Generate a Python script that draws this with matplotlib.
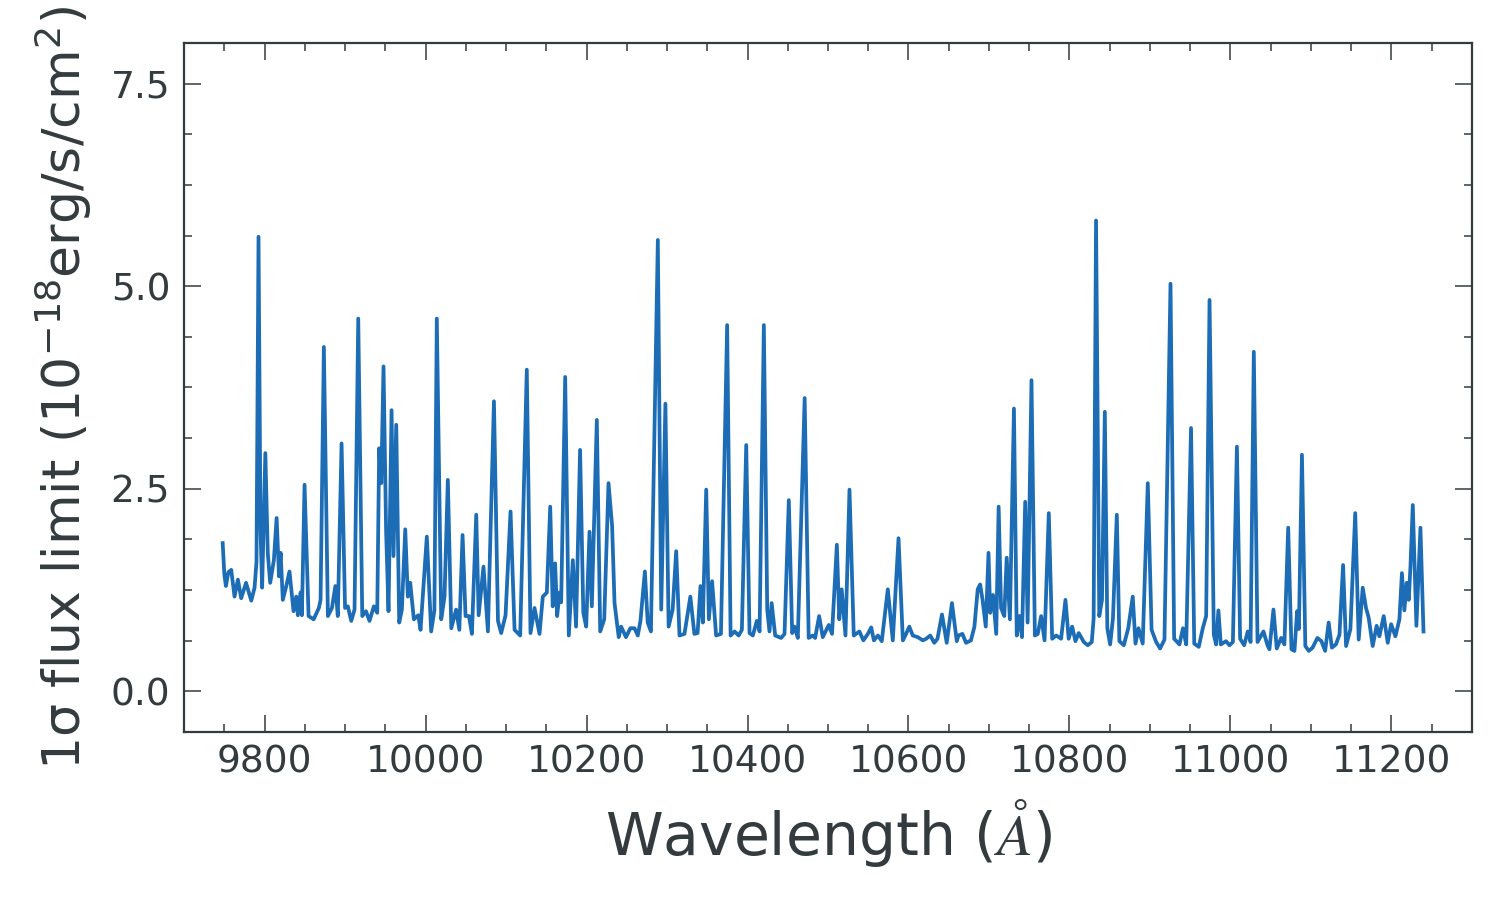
import numpy as np
import matplotlib
matplotlib.use("Agg")
import matplotlib.pyplot as plt
from matplotlib.ticker import MultipleLocator

# --- data (wavelength in A, flux in 1e-18 erg/s/cm2) ---
wavelength = [
    9748.0, 9750.0, 9752.0, 9755.0, 9758.6, 9762.7, 9766.9, 9771.0, 9777.0, 9783.5,
    9787.6, 9790.0, 9792.5, 9795.0, 9797.0, 9801.0, 9804.0, 9807.0, 9811.6, 9815.0,
    9818.0, 9820.0, 9822.7, 9827.0, 9831.0, 9836.0, 9839.4, 9841.4, 9844.7, 9846.4,
    9849.7, 9854.7, 9861.0, 9867.5, 9869.6, 9873.7, 9878.7, 9883.7, 9888.0, 9891.0,
    9895.7, 9900.0, 9903.5, 9907.7, 9911.8, 9916.4, 9921.4, 9926.0, 9930.4, 9935.8,
    9940.0, 9942.4, 9945.0, 9947.8, 9951.0, 9954.0, 9957.8, 9960.2, 9963.6, 9967.3,
    9970.6, 9974.8, 9978.0, 9981.0, 9985.5, 9991.0, 9993.8, 10001.6, 10007.0, 10011.0,
    10014.0, 10019.5, 10023.6, 10027.7, 10032.0, 10038.0, 10042.0, 10046.0, 10049.7, 10054.0,
    10057.6, 10063.0, 10066.0, 10072.0, 10077.5, 10085.0, 10090.0, 10094.0, 10099.4, 10105.6,
    10110.6, 10117.6, 10125.8, 10130.4, 10135.4, 10141.6, 10145.7, 10150.7, 10154.9, 10158.0,
    10161.0, 10163.5, 10166.5, 10168.5, 10173.5, 10178.0, 10183.0, 10187.0, 10192.0, 10196.0,
    10199.6, 10203.7, 10206.6, 10212.8, 10217.0, 10222.0, 10227.3, 10231.8, 10234.8, 10240.0,
    10243.0, 10249.0, 10254.5, 10259.6, 10263.7, 10267.0, 10272.5, 10276.0, 10280.0, 10288.6,
    10292.8, 10298.0, 10302.0, 10307.0, 10311.4, 10315.5, 10321.7, 10329.0, 10334.0, 10338.0,
    10341.6, 10344.5, 10348.7, 10352.0, 10356.0, 10361.0, 10367.0, 10374.7, 10379.0, 10384.0,
    10389.0, 10393.0, 10398.4, 10402.5, 10406.6, 10411.6, 10415.0, 10420.3, 10424.5, 10427.3,
    10430.0, 10434.4, 10441.8, 10446.0, 10451.3, 10455.5, 10458.4, 10462.5, 10471.0, 10476.0,
    10481.0, 10484.0, 10489.0, 10493.5, 10501.0, 10505.0, 10511.0, 10514.0, 10517.0, 10521.7,
    10526.7, 10532.0, 10539.0, 10544.0, 10549.5, 10553.7, 10557.0, 10562.0, 10566.8, 10574.3,
    10580.5, 10587.6, 10593.0, 10597.0, 10601.0, 10605.3, 10611.5, 10617.8, 10622.0, 10627.0,
    10632.0, 10636.0, 10641.6, 10647.5, 10654.0, 10660.0, 10662.0, 10667.0, 10671.5, 10677.6,
    10681.9, 10686.0, 10689.0, 10692.0, 10696.0, 10699.4, 10701.5, 10705.0, 10709.0, 10712.0,
    10715.0, 10719.0, 10722.0, 10726.0, 10731.0, 10734.5, 10738.0, 10741.0, 10745.0, 10748.0,
    10752.8, 10757.0, 10760.6, 10764.8, 10769.0, 10774.3, 10778.5, 10783.5, 10789.6, 10795.0,
    10799.0, 10803.3, 10807.4, 10811.5, 10817.8, 10822.7, 10827.7, 10830.0, 10833.0, 10837.0,
    10840.4, 10843.9, 10847.0, 10850.5, 10854.0, 10858.8, 10862.0, 10867.5, 10873.0, 10878.6,
    10882.0, 10885.7, 10891.0, 10897.3, 10902.0, 10907.7, 10912.6, 10918.0, 10925.5, 10930.0,
    10936.6, 10941.0, 10945.0, 10951.0, 10955.0, 10960.6, 10965.6, 10969.8, 10974.0, 10979.3,
    10982.2, 10985.0, 10988.0, 10994.4, 10998.8, 11003.0, 11008.0, 11012.0, 11017.0, 11021.5,
    11025.0, 11029.0, 11033.6, 11041.0, 11046.0, 11048.4, 11053.4, 11057.5, 11063.0, 11067.0,
    11071.7, 11075.8, 11079.5, 11082.8, 11085.0, 11088.8, 11093.0, 11097.3, 11102.0, 11108.0,
    11113.0, 11117.6, 11122.0, 11126.0, 11131.0, 11135.4, 11139.9, 11143.6, 11149.0, 11155.0,
    11159.3, 11164.3, 11168.4, 11171.7, 11176.7, 11181.6, 11185.0, 11190.4, 11195.4, 11199.6,
    11204.9, 11209.9, 11213.0, 11216.0, 11219.0, 11221.5, 11223.6, 11226.5, 11231.0, 11236.0,
    11239.8,
]
flux_limit = [
    1.83, 1.45, 1.30, 1.47, 1.50, 1.17, 1.38, 1.15, 1.34, 1.12,
    1.28, 1.60, 5.61, 2.00, 1.28, 2.94, 1.71, 1.34, 1.62, 2.14,
    1.42, 1.71, 1.13, 1.30, 1.48, 0.99, 1.17, 0.94, 1.22, 0.94,
    2.55, 0.93, 0.89, 1.03, 1.13, 4.25, 0.93, 1.03, 1.30, 0.93,
    3.06, 1.03, 1.05, 0.87, 1.01, 4.60, 0.93, 0.99, 0.87, 1.05,
    0.97, 3.00, 2.57, 4.01, 1.98, 0.99, 3.47, 1.67, 3.29, 0.85,
    1.01, 2.00, 1.17, 1.34, 0.89, 0.94, 0.76, 1.91, 0.74, 1.00,
    4.60, 0.89, 1.17, 2.61, 0.78, 1.01, 0.76, 1.93, 0.93, 0.93,
    0.71, 2.18, 0.94, 1.54, 0.74, 3.58, 0.87, 0.72, 0.94, 2.22,
    0.76, 0.69, 3.97, 0.72, 1.03, 0.71, 1.17, 1.22, 2.28, 1.05,
    1.58, 0.93, 1.22, 1.10, 3.88, 0.69, 1.62, 0.80, 2.98, 0.97,
    0.80, 1.97, 1.05, 3.35, 0.74, 0.89, 2.57, 2.04, 1.09, 0.67,
    0.80, 0.67, 0.78, 0.78, 0.69, 0.87, 1.48, 0.85, 0.74, 5.57,
    1.01, 3.55, 0.80, 1.01, 1.73, 0.69, 0.71, 1.17, 0.71, 0.72,
    1.30, 0.85, 2.49, 0.89, 1.36, 0.69, 0.71, 4.52, 0.69, 0.74,
    0.69, 0.76, 3.04, 0.72, 0.69, 0.87, 0.74, 4.52, 1.01, 0.74,
    1.09, 0.69, 0.66, 0.71, 2.36, 0.72, 0.80, 0.66, 3.62, 0.66,
    0.69, 0.66, 0.93, 0.67, 0.82, 0.71, 1.81, 0.89, 1.26, 0.69,
    2.49, 0.69, 0.74, 0.63, 0.71, 0.79, 0.63, 0.69, 0.62, 1.26,
    0.63, 1.89, 0.63, 0.71, 0.80, 0.69, 0.67, 0.63, 0.65, 0.69,
    0.60, 0.65, 0.95, 0.60, 1.09, 0.62, 0.69, 0.71, 0.60, 0.63,
    0.80, 1.26, 1.32, 1.13, 0.80, 1.71, 0.97, 1.19, 0.71, 2.28,
    1.03, 0.93, 1.65, 0.89, 3.49, 0.69, 0.93, 0.67, 2.34, 0.85,
    3.84, 0.69, 0.71, 0.93, 0.63, 2.20, 0.65, 0.69, 0.65, 1.13,
    0.65, 0.80, 0.62, 0.72, 0.61, 0.57, 0.61, 0.90, 5.81, 0.93,
    1.13, 3.45, 0.78, 0.58, 0.90, 2.18, 0.62, 0.57, 0.78, 1.17,
    0.59, 0.78, 0.59, 2.57, 0.76, 0.61, 0.53, 0.64, 5.03, 0.65,
    0.58, 0.78, 0.58, 3.25, 0.59, 0.55, 0.78, 0.93, 4.83, 0.70,
    0.58, 1.00, 0.58, 0.62, 0.57, 0.61, 3.02, 0.65, 0.57, 0.74,
    0.61, 4.19, 0.61, 0.74, 0.57, 0.52, 1.01, 0.53, 0.66, 0.58,
    2.02, 0.52, 0.50, 0.99, 0.77, 2.92, 0.56, 0.50, 0.54, 0.66,
    0.62, 0.50, 0.85, 0.54, 0.58, 0.70, 1.56, 0.56, 0.77, 2.20,
    0.64, 1.28, 1.03, 0.91, 0.56, 0.81, 0.68, 0.93, 0.60, 0.83,
    0.68, 0.89, 1.46, 1.00, 1.34, 1.13, 1.54, 2.30, 0.81, 2.02,
    0.74,
]

text_color = '#343b3f'
line_color = '#1c6db6'

plt.rcParams['font.family'] = ['DejaVu Sans']
plt.rcParams['text.color'] = text_color
plt.rcParams['axes.labelcolor'] = text_color

fig, ax = plt.subplots(figsize=(15, 9), dpi=100)
fig.subplots_adjust(left=0.1227, right=0.9813, top=0.9522, bottom=0.1867)

ax.plot(wavelength, flux_limit, color=line_color, linewidth=2.7)

ax.set_xlim(9700, 11300)
ax.set_ylim(-0.5, 8.0)

ax.xaxis.set_major_locator(MultipleLocator(200))
ax.xaxis.set_minor_locator(MultipleLocator(50))
ax.yaxis.set_major_locator(MultipleLocator(2.5))
ax.yaxis.set_minor_locator(MultipleLocator(0.625))

ax.tick_params(which='both', direction='in', top=True, right=True,
               colors=text_color, labelsize=27, width=1.1)
ax.tick_params(which='major', length=12)
ax.tick_params(which='minor', length=6)
ax.tick_params(axis='x', which='major', pad=9)
ax.tick_params(axis='y', which='major', pad=10)

for sp in ax.spines.values():
    sp.set_color(text_color)
    sp.set_linewidth(1.6)

ax.set_xlabel(r"Wavelength ($\AA$)", fontsize=42, labelpad=12, math_fontfamily='stix')
ax.set_ylabel(r"1σ flux limit (10$^{-18}$erg/s/cm$^2$)", fontsize=37.5, labelpad=12)

fig.savefig("out.png", dpi=100)
